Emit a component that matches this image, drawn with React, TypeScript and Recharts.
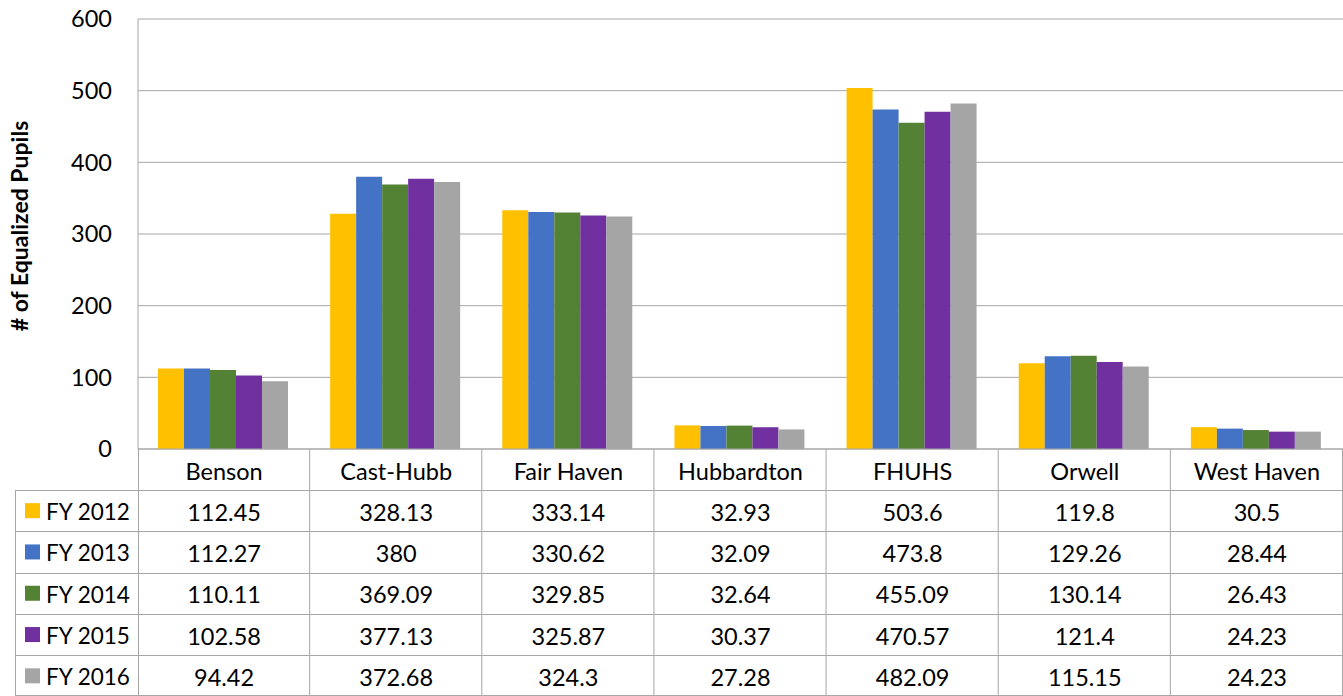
import { Bar, BarChart, CartesianGrid, XAxis, YAxis } from "recharts";

const categories = ["Benson", "Cast-Hubb", "Fair Haven", "Hubbardton", "FHUHS", "Orwell", "West Haven"];
const seriesNames = ["FY 2012", "FY 2013", "FY 2014", "FY 2015", "FY 2016"];
const fy2012 = [112.45, 328.13, 333.14, 32.93, 503.6, 119.8, 30.5];
const fy2013 = [112.27, 380, 330.62, 32.09, 473.8, 129.26, 28.44];
const fy2014 = [110.11, 369.09, 329.85, 32.64, 455.09, 130.14, 26.43];
const fy2015 = [102.58, 377.13, 325.87, 30.37, 470.57, 121.4, 24.23];
const fy2016 = [94.42, 372.68, 324.3, 27.28, 482.09, 115.15, 24.23];
const yTicks = [0, 100, 200, 300, 400, 500, 600];

const colors = ["#FFC000", "#4472C4", "#548235", "#7030A0", "#A5A5A5"];
const seriesValues = [fy2012, fy2013, fy2014, fy2015, fy2016];
const keys = ["fy2012", "fy2013", "fy2014", "fy2015", "fy2016"];

const data = categories.map((name, i) => ({
  name,
  fy2012: fy2012[i],
  fy2013: fy2013[i],
  fy2014: fy2014[i],
  fy2015: fy2015[i],
  fy2016: fy2016[i],
}));

const W = 1343;
const H = 696;
const PLOT_LEFT = 138;
const PLOT_TOP = 19;
const PLOT_BOTTOM = 449;
const COL_W = (W - PLOT_LEFT) / categories.length;
const HEADER_BOTTOM = 490;
const ROW_H = 41.3;
const LEGEND_LEFT = 15;
const FONT = "Lato, 'Open Sans', sans-serif";
const FONT_SIZE = 23.5;
const LINE = "#a6a6a6";

function TableTick(props: any) {
  const { x, index, payload } = props;
  const left = x - COL_W / 2;
  const right = x + COL_W / 2;
  const rowTops = seriesNames.map((_, r) => HEADER_BOTTOM + r * ROW_H);
  const bottom = H - 0.5;

  return (
    <g>
      {/* category header */}
      <text
        x={x}
        y={(PLOT_BOTTOM + HEADER_BOTTOM) / 2 + 1}
        textAnchor="middle"
        dominantBaseline="central"
        fontFamily={FONT}
        fontSize={FONT_SIZE}
        fill="#000"
      >
        {payload.value}
      </text>
      <line x1={right - 0.5} x2={right - 0.5} y1={PLOT_BOTTOM} y2={H} stroke={LINE} />
      {index === 0 && (
        <line x1={Math.round(left) + 0.5} x2={Math.round(left) + 0.5} y1={PLOT_BOTTOM} y2={H} stroke={LINE} />
      )}
      {rowTops.map((t, r) => (
        <g key={r}>
          <line x1={left} x2={right} y1={Math.round(t) + 0.5} y2={Math.round(t) + 0.5} stroke={LINE} />
          <text
            x={x}
            y={t + ROW_H / 2 + 1}
            textAnchor="middle"
            dominantBaseline="central"
            fontFamily={FONT}
            fontSize={FONT_SIZE}
            fill="#000"
          >
            {String(seriesValues[r][index])}
          </text>
        </g>
      ))}
      <line x1={left} x2={right} y1={bottom} y2={bottom} stroke={LINE} />

      {/* legend column */}
      {index === 0 && (
        <g>
          <line x1={LEGEND_LEFT + 0.5} x2={LEGEND_LEFT + 0.5} y1={HEADER_BOTTOM} y2={H} stroke={LINE} />
          <line x1={LEGEND_LEFT} x2={left} y1={bottom} y2={bottom} stroke={LINE} />
          {rowTops.map((t, r) => (
            <g key={r}>
              <line
                x1={LEGEND_LEFT}
                x2={left}
                y1={Math.round(t) + 0.5}
                y2={Math.round(t) + 0.5}
                stroke={LINE}
              />
              <rect x={25} y={t + ROW_H / 2 - 7.5} width={15} height={15} fill={colors[r]} />
              <text
                x={46}
                y={t + ROW_H / 2 + 1}
                dominantBaseline="central"
                fontFamily={FONT}
                fontSize={22.5}
                fill="#000"
              >
                {seriesNames[r]}
              </text>
            </g>
          ))}
        </g>
      )}
    </g>
  );
}

function AxisTitle() {
  const cx = 19;
  const cy = 226;
  return (
    <text
      x={cx}
      y={cy}
      transform={`rotate(-90, ${cx}, ${cy})`}
      textAnchor="middle"
      dominantBaseline="central"
      fontFamily={FONT}
      fontWeight="bold"
      fontSize={23}
      fill="#000"
    >
      # of Equalized Pupils
    </text>
  );
}

export default function App() {
  return (
    <div style={{ position: "absolute", left: 0, top: 0, width: W, height: H, background: "#fff", fontFamily: FONT }}>
      <BarChart
        width={W}
        height={H}
        data={data}
        margin={{ top: PLOT_TOP, right: 0, bottom: 0, left: 0 }}
        barCategoryGap={20}
        barGap={0}
      >
        <CartesianGrid vertical={false} stroke={LINE} strokeWidth={1} />
        <XAxis
          dataKey="name"
          height={H - PLOT_BOTTOM}
          interval={0}
          tickLine={false}
          axisLine={{ stroke: LINE }}
          tick={<TableTick />}
        />
        <YAxis
          width={PLOT_LEFT}
          domain={[0, 600]}
          ticks={yTicks}
          interval={0}
          tickLine={false}
          tickSize={0}
          tickMargin={26}
          axisLine={{ stroke: LINE }}
          tick={{ fill: "#000", fontSize: FONT_SIZE, fontFamily: FONT }}
          label={{ content: () => <AxisTitle /> }}
        />
        {keys.map((k, i) => (
          <Bar key={k} dataKey={k} name={seriesNames[i]} fill={colors[i]} isAnimationActive={false} />
        ))}
      </BarChart>
    </div>
  );
}
